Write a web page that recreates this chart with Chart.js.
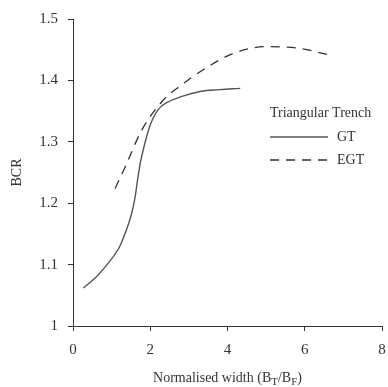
<!DOCTYPE html>
<html>
<head>
<meta charset="utf-8">
<script src="https://cdn.jsdelivr.net/npm/chart.js@4.4.1/dist/chart.umd.min.js"></script>
<style>
  html, body { margin: 0; padding: 0; background: #fff; }
  #wrap { width: 388px; height: 387px; }
</style>
</head>
<body>
<div id="wrap"><canvas id="chart" width="388" height="387"></canvas></div>
<script>
// values
const gtX = [0.27, 0.6, 0.91, 1.17, 1.3, 1.43, 1.52, 1.6, 1.67, 1.75, 1.85, 1.95, 2.05, 2.2, 2.4, 2.82, 3.29, 3.8, 4.33];
const gtY = [1.062, 1.080, 1.102, 1.125, 1.143, 1.165, 1.184, 1.207, 1.237, 1.268, 1.295, 1.318, 1.335, 1.352, 1.363, 1.374, 1.382, 1.385, 1.387];
const egtX = [1.09, 1.35, 1.78, 2.34, 2.8, 3.29, 4.15, 5.02, 5.88, 6.66];
const egtY = [1.224, 1.259, 1.319, 1.368, 1.392, 1.414, 1.444, 1.455, 1.452, 1.441];
const seriesNames = ['GT', 'EGT'];
const legendTitle = 'Triangular Trench';
const xTicks = [0, 2, 4, 6, 8];
const yTicks = [1, 1.1, 1.2, 1.3, 1.4, 1.5];

const FONT = '"Liberation Serif", "Times New Roman", serif';
const INK = '#333';

function toPoints(xs, ys) {
  return xs.map((x, i) => ({ x: x, y: ys[i] }));
}

// legend drawn inside the plot area, like the original figure
const insideLegend = {
  id: 'insideLegend',
  afterDraw(chart) {
    const ctx = chart.ctx;
    const left = 270, top = 113;
    ctx.save();
    ctx.font = '14px ' + FONT;
    ctx.fillStyle = INK;
    ctx.textBaseline = 'middle';
    ctx.textAlign = 'left';
    ctx.fillText(legendTitle, left, top);
    chart.data.datasets.forEach((ds, i) => {
      const y = top + 24 + i * 23;
      ctx.strokeStyle = ds.borderColor;
      ctx.lineWidth = ds.borderWidth;
      ctx.setLineDash(ds.borderDash || []);
      ctx.beginPath();
      ctx.moveTo(left, y);
      ctx.lineTo(left + 58, y);
      ctx.stroke();
      ctx.setLineDash([]);
      ctx.fillText(ds.label, left + 67, y);
    });
    ctx.restore();
  }
};

// x title has subscripts, so draw it by hand
const xTitle = {
  id: 'xTitle',
  afterDraw(chart) {
    const ctx = chart.ctx;
    const area = chart.chartArea;
    const parts = [
      ['Normalised width (B', 14, 0],
      ['T', 11, 3],
      ['/B', 14, 0],
      ['F', 11, 3],
      [')', 14, 0]
    ];
    ctx.save();
    ctx.fillStyle = INK;
    ctx.textBaseline = 'alphabetic';
    let total = 0;
    parts.forEach(p => { ctx.font = p[1] + 'px ' + FONT; total += ctx.measureText(p[0]).width; });
    let x = (area.left + area.right) / 2 - total / 2;
    const base = 382;
    parts.forEach(p => {
      ctx.font = p[1] + 'px ' + FONT;
      ctx.fillText(p[0], x, base + p[2]);
      x += ctx.measureText(p[0]).width;
    });
    ctx.restore();
  }
};

new Chart(document.getElementById('chart'), {
  type: 'scatter',
  data: {
    datasets: [
      {
        label: seriesNames[0],
        data: toPoints(gtX, gtY),
        showLine: true,
        borderColor: '#555',
        borderWidth: 1.4,
        pointRadius: 0,
        tension: 0.4
      },
      {
        label: seriesNames[1],
        data: toPoints(egtX, egtY),
        showLine: true,
        borderColor: '#333',
        borderWidth: 1.3,
        borderDash: [9, 7],
        pointRadius: 0,
        cubicInterpolationMode: 'monotone'
      }
    ]
  },
  options: {
    responsive: false,
    animation: false,
    layout: { padding: { top: 19, right: 6, left: 9, bottom: 0 } },
    plugins: {
      legend: { display: false },
      tooltip: { enabled: false }
    },
    scales: {
      x: {
        type: 'linear',
        min: 0,
        max: 8,
        afterBuildTicks: (axis) => { axis.ticks = xTicks.map(v => ({ value: v })); },
        afterFit: (axis) => { axis.height = 61; axis.paddingRight = 0; axis.paddingLeft = 0; },
        grid: { drawOnChartArea: false, drawTicks: true, tickLength: 5, color: INK },
        border: { display: true, color: INK, width: 1 },
        ticks: { color: INK, font: { family: FONT, size: 15 }, padding: 10, maxRotation: 0 }
      },
      y: {
        type: 'linear',
        min: 1,
        max: 1.5,
        afterBuildTicks: (axis) => { axis.ticks = yTicks.map(v => ({ value: v })); },
        afterFit: (axis) => { axis.width = 64; },
        grid: { drawOnChartArea: false, drawTicks: true, tickLength: 5, color: INK },
        border: { display: true, color: INK, width: 1 },
        ticks: {
          color: INK,
          font: { family: FONT, size: 15 },
          padding: 10,
          callback: (v) => String(Math.round(v * 10) / 10)
        },
        title: {
          display: true,
          text: 'BCR',
          color: INK,
          font: { family: FONT, size: 14 },
          padding: { top: 0, bottom: 4 }
        }
      }
    }
  },
  plugins: [insideLegend, xTitle]
});
</script>
</body>
</html>
